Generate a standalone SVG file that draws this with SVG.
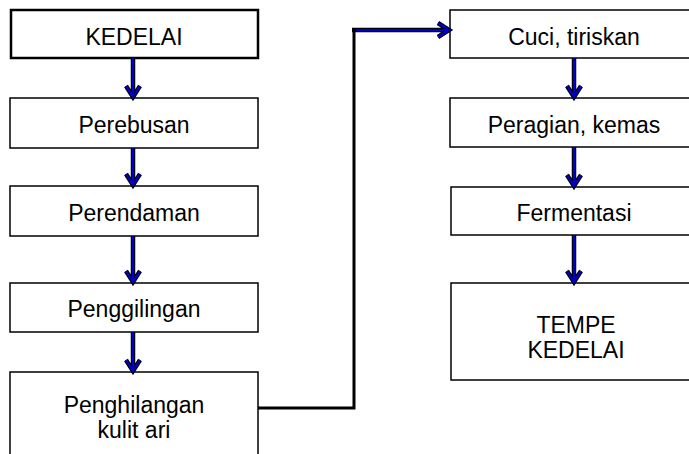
<svg xmlns="http://www.w3.org/2000/svg" width="689" height="454" viewBox="0 0 689 454">
<style>
.box{fill:#fff;stroke:#000;stroke-width:1.5}
.bold{stroke-width:2.5}
text{font-family:"Liberation Sans",Arial,sans-serif;font-size:23px;fill:#000;text-anchor:middle}
.o{fill:none;stroke:#000;stroke-width:4.5;stroke-linejoin:miter;stroke-linecap:butt}
.i{fill:none;stroke:#0000c8;stroke-width:2.2;stroke-linejoin:miter;stroke-linecap:butt}
.blk{fill:none;stroke:#000;stroke-width:3}
</style>
<rect width="689" height="454" fill="#fff"/>
<g id="n1"><rect class="box bold" x="11" y="10" width="247" height="48"/><text x="134" y="45">KEDELAI</text></g>
<g id="n2"><rect class="box" x="10" y="98" width="248" height="50"/><text x="134" y="133">Perebusan</text></g>
<g id="n3"><rect class="box" x="10" y="186" width="248" height="50"/><text x="134" y="221">Perendaman</text></g>
<g id="n4"><rect class="box" x="10" y="283" width="248" height="49"/><text x="134" y="317">Penggilingan</text></g>
<g id="n5"><rect class="box" x="10" y="372" width="248" height="100"/><text x="134" y="413">Penghilangan</text><text x="134" y="438">kulit ari</text></g>
<g id="n6"><rect class="box" x="450" y="10" width="248" height="48"/><text x="574" y="45">Cuci, tiriskan</text></g>
<g id="n7"><rect class="box" x="450" y="98" width="248" height="49"/><text x="574" y="133">Peragian, kemas</text></g>
<g id="n8"><rect class="box" x="451" y="187" width="248" height="48"/><text x="574" y="221">Fermentasi</text></g>
<g id="n9"><rect class="box" x="451" y="283" width="248" height="97"/><text x="576" y="333">TEMPE</text><text x="576" y="358">KEDELAI</text></g>
<g id="connectors">
<path class="blk" d="M258 408 H354 V28.5"/>
<g class="o">
<path d="M133 58 V97 M126 86 L133 97 L140 86"/>
<path d="M133 148 V185 M126 174 L133 185 L140 174"/>
<path d="M133 236 V282 M126 271 L133 282 L140 271"/>
<path d="M133 332 V371 M126 360 L133 371 L140 360"/>
<path d="M574 58 V97 M567 86 L574 97 L581 86"/>
<path d="M574 147 V186 M567 175 L574 186 L581 175"/>
<path d="M574 235 V282 M567 271 L574 282 L581 271"/>
<path d="M352 30 H449 M438 23 L449 30 L438 37"/>
</g>
<g class="i">
<path d="M133 58 V97 M126 86 L133 97 L140 86"/>
<path d="M133 148 V185 M126 174 L133 185 L140 174"/>
<path d="M133 236 V282 M126 271 L133 282 L140 271"/>
<path d="M133 332 V371 M126 360 L133 371 L140 360"/>
<path d="M574 58 V97 M567 86 L574 97 L581 86"/>
<path d="M574 147 V186 M567 175 L574 186 L581 175"/>
<path d="M574 235 V282 M567 271 L574 282 L581 271"/>
<path d="M356 30 H449 M438 23 L449 30 L438 37"/>
</g>
</g>
</svg>
